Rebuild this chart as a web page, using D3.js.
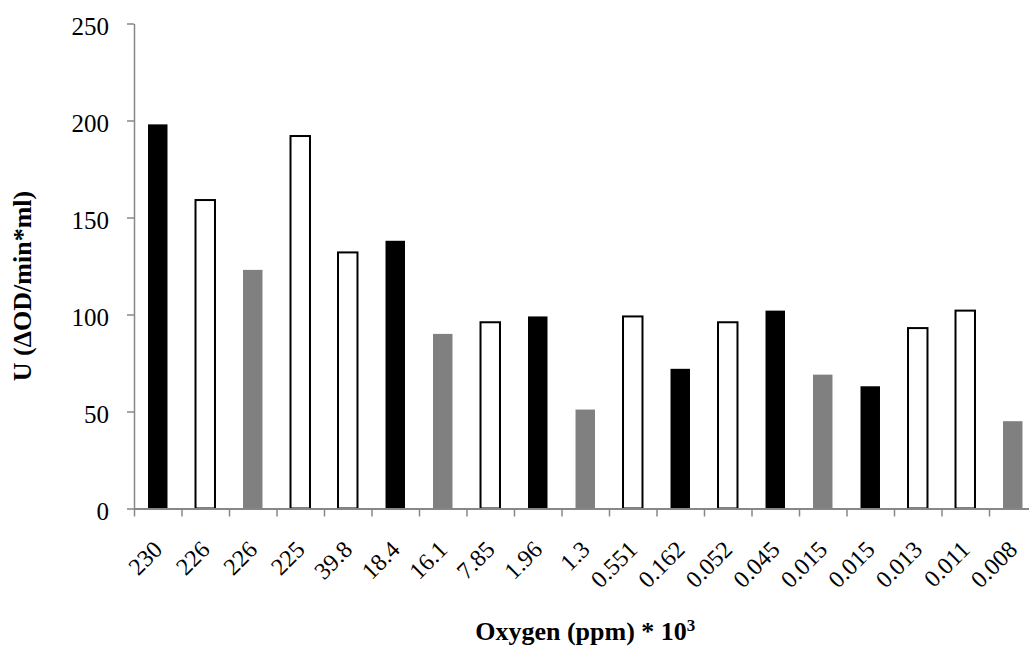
<!DOCTYPE html>
<html>
<head>
<meta charset="utf-8">
<script src="https://cdn.jsdelivr.net/npm/d3@7/dist/d3.min.js"></script>
<style>
  html, body { margin: 0; padding: 0; background: #fff; }
  svg { display: block; font-family: "Liberation Serif", "Times New Roman", serif; }
</style>
</head>
<body>
<svg id="chart" width="1029" height="647"></svg>
<script>
// Oxygen concentration (ppm * 10^3) for each sample, in plotted order
const oxygenLabels = ["230", "226", "226", "225", "39.8", "18.4", "16.1", "7.85", "1.96", "1.3",
                      "0.551", "0.162", "0.052", "0.045", "0.015", "0.015", "0.013", "0.011", "0.008"];
// Activity U (ΔOD/min*ml)
const activity = [198, 159, 123, 192, 132, 138, 90, 96, 99, 51,
                  99, 72, 96, 102, 69, 63, 93, 102, 45];
// Bar style group: "solid" black, "grey" filled, "open" outlined
const barGroup = ["solid", "open", "grey", "open", "open", "solid", "grey", "open", "solid", "grey",
                  "open", "solid", "open", "solid", "grey", "solid", "open", "open", "grey"];
const yTicks = [0, 50, 100, 150, 200, 250];

const svg = d3.select("#chart");
const plotLeft = 134, plotRight = 1036.5, plotTop = 23.5, plotBottom = 508.5;
const axisColor = "#878787";

const n = oxygenLabels.length;
const idx = d3.range(n);

// Band scale for the bars, linear index scale for category boundaries
const x = d3.scaleBand().domain(idx).range([plotLeft, plotRight]).paddingInner(0.59).paddingOuter(0.295);
const xEdge = d3.scaleLinear().domain([0, n]).range([plotLeft, plotRight]);
const y = d3.scaleLinear().domain([0, 250]).range([plotBottom, plotTop]);

const fills = { solid: "#000000", grey: "#808080", open: "#ffffff" };

// Bars
svg.append("g")
  .selectAll("rect")
  .data(idx)
  .join("rect")
    .attr("x", i => x(i))
    .attr("width", x.bandwidth())
    .attr("y", i => y(activity[i]))
    .attr("height", i => y(0) - y(activity[i]))
    .attr("fill", i => fills[barGroup[i]])
    .attr("stroke", i => barGroup[i] === "open" ? "#000" : "none")
    .attr("stroke-width", 2);

// Y axis
const yAxis = svg.append("g")
  .attr("transform", `translate(${plotLeft},0)`)
  .call(d3.axisLeft(y).tickValues(yTicks).tickSize(7).tickSizeOuter(0).tickPadding(18));
yAxis.select(".domain").attr("stroke", axisColor).attr("stroke-width", 1.5);
yAxis.selectAll(".tick line").attr("stroke", axisColor).attr("stroke-width", 1.5);
yAxis.selectAll(".tick text")
  .attr("font-size", 25)
  .attr("font-family", "Liberation Serif, serif")
  .attr("fill", "#000")
  .attr("dy", "0.42em");

// X axis: ticks between categories
const xAxis = svg.append("g")
  .attr("transform", `translate(0,${plotBottom})`)
  .call(d3.axisBottom(xEdge).tickValues(d3.range(0, n + 1)).tickSize(8).tickSizeOuter(0).tickFormat(""));
xAxis.select(".domain").attr("stroke", axisColor).attr("stroke-width", 2);
xAxis.selectAll(".tick line").attr("stroke", axisColor).attr("stroke-width", 1.5);

// Rotated category labels
svg.append("g")
  .selectAll("text")
  .data(idx)
  .join("text")
    .attr("transform", i => `translate(${xEdge(i + 0.5) + 6},551) rotate(-45)`)
    .attr("text-anchor", "end")
    .attr("font-size", 24)
    .attr("fill", "#000")
    .text(i => oxygenLabels[i]);

// Axis titles
svg.append("text")
  .attr("transform", `translate(31,286) rotate(-90)`)
  .attr("text-anchor", "middle")
  .attr("font-size", 26)
  .attr("font-weight", "bold")
  .attr("fill", "#000")
  .text("U (ΔOD/min*ml)");

const xTitle = svg.append("text")
  .attr("x", (plotLeft + plotRight) / 2)
  .attr("y", 640)
  .attr("text-anchor", "middle")
  .attr("font-size", 26)
  .attr("font-weight", "bold")
  .attr("fill", "#000");
xTitle.append("tspan").text("Oxygen (ppm) * 10");
xTitle.append("tspan").attr("font-size", 17).attr("dy", -9).text("3");
</script>
</body>
</html>
